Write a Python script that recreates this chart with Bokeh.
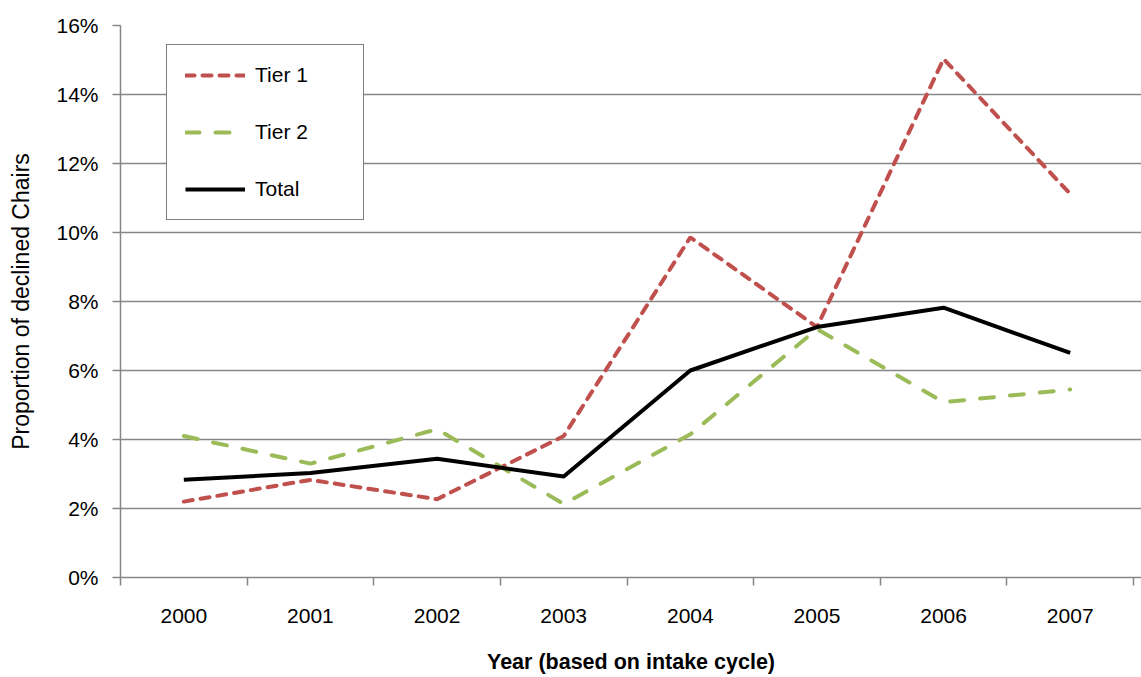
from bokeh.plotting import figure
from bokeh.models import Range1d, FixedTicker, NumeralTickFormatter, Legend, LegendItem
from bokeh.embed import file_html
from bokeh.resources import INLINE

years = ["2000", "2001", "2002", "2003", "2004", "2005", "2006", "2007"]
tier1 = [0.0220, 0.0283, 0.0227, 0.0410, 0.0986, 0.0726, 0.1503, 0.1112]
tier2 = [0.0410, 0.0330, 0.0430, 0.0213, 0.0415, 0.0720, 0.0508, 0.0545]
total = [0.0283, 0.0303, 0.0344, 0.0293, 0.0600, 0.0726, 0.0782, 0.0651]
y_ticks = [0.00, 0.02, 0.04, 0.06, 0.08, 0.10, 0.12, 0.14, 0.16]

FONT = "Liberation Sans"
GRAY = "#868686"
FS = "21px"

xs = list(range(len(years)))

p = figure(width=1141, height=677, output_backend="svg", toolbar_location=None,
           x_range=Range1d(-0.5, len(years) - 0.5 + 0.063),
           y_range=Range1d(0, 0.16),
           min_border_left=120, min_border_right=0, min_border_top=25,
           min_border_bottom=100)
p.outline_line_color = None
p.background_fill_color = "white"
p.border_fill_color = "white"

# axes
p.xaxis.ticker = FixedTicker(ticks=xs, minor_ticks=[i - 0.5 for i in range(len(years) + 1)])
p.xaxis.major_label_overrides = {i: y for i, y in enumerate(years)}
p.xaxis.major_tick_line_color = None
p.xaxis.major_tick_out = 0
p.xaxis.major_tick_in = 0
p.xaxis.minor_tick_line_color = GRAY
p.xaxis.minor_tick_line_width = 1.5
p.xaxis.minor_tick_out = 8
p.xaxis.minor_tick_in = 0
p.xaxis.axis_line_color = GRAY
p.xaxis.axis_line_width = 1.5
p.xaxis.major_label_standoff = 23
p.xaxis.major_label_text_font = FONT
p.xaxis.major_label_text_font_size = FS
p.xaxis.major_label_text_color = "black"
p.xaxis.axis_label = "Year (based on intake cycle)"
p.xaxis.axis_label_text_font = FONT
p.xaxis.axis_label_text_font_size = "21.5px"
p.xaxis.axis_label_text_font_style = "bold"
p.xaxis.axis_label_text_color = "black"
p.xaxis.axis_label_standoff = 24

p.yaxis.ticker = FixedTicker(ticks=y_ticks)
p.yaxis.formatter = NumeralTickFormatter(format="0%")
p.yaxis.major_tick_line_color = GRAY
p.yaxis.major_tick_line_width = 1.5
p.yaxis.major_tick_out = 8
p.yaxis.major_tick_in = 0
p.yaxis.minor_tick_line_color = None
p.yaxis.axis_line_color = GRAY
p.yaxis.axis_line_width = 1.5
p.yaxis.major_label_standoff = 14
p.yaxis.major_label_text_font = FONT
p.yaxis.major_label_text_font_size = FS
p.yaxis.major_label_text_color = "black"
p.yaxis.axis_label = "Proportion of declined Chairs"
p.yaxis.axis_label_text_font = FONT
p.yaxis.axis_label_text_font_size = "23px"
p.yaxis.axis_label_text_font_style = "normal"
p.yaxis.axis_label_text_color = "black"
p.yaxis.axis_label_standoff = 19

p.xgrid.grid_line_color = None
p.ygrid.ticker = FixedTicker(ticks=y_ticks)
p.ygrid.grid_line_color = GRAY
p.ygrid.grid_line_width = 1.5

r1 = p.line(xs, tier1, line_color="#C0504D", line_width=4, line_dash="9 8", line_cap="round")
r2 = p.line(xs, tier2, line_color="#9BBB59", line_width=4, line_dash="14 16", line_cap="round")
r3 = p.line(xs, total, line_color="black", line_width=4, line_join="round")

legend = Legend(items=[LegendItem(label="Tier 1", renderers=[r1]),
                       LegendItem(label="Tier 2", renderers=[r2]),
                       LegendItem(label="Total", renderers=[r3])],
                location=(46, 357))
legend.padding = 18
legend.spacing = 33
legend.glyph_width = 60
legend.glyph_height = 24
legend.label_height = 24
legend.label_standoff = 10
legend.label_width = 90
legend.label_text_font = FONT
legend.label_text_font_size = FS
legend.label_text_color = "black"
legend.border_line_color = "black"
legend.border_line_width = 1.5
legend.background_fill_color = "white"
legend.background_fill_alpha = 1
legend.margin = 0
p.add_layout(legend)

open("out.html", "w").write(file_html(p, INLINE))
